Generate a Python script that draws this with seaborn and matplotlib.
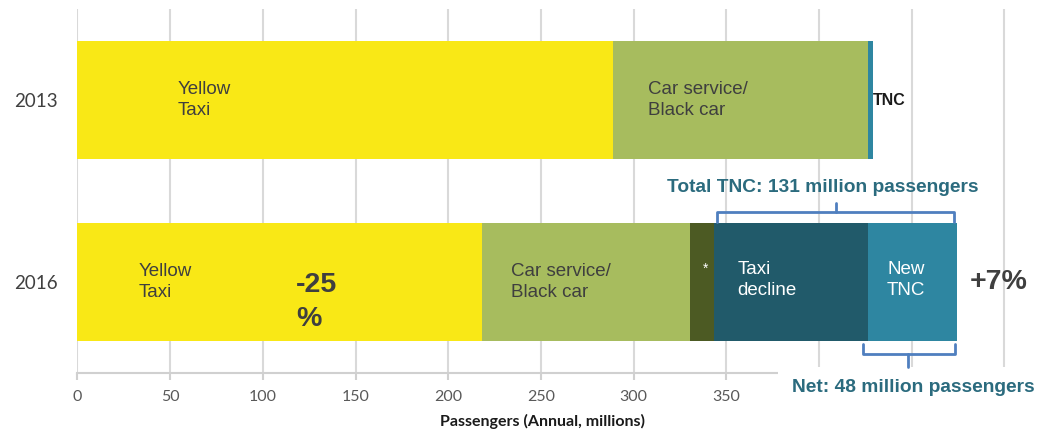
import matplotlib
matplotlib.use("Agg")
import matplotlib.pyplot as plt
from matplotlib.patches import Rectangle
import seaborn as sns
import pandas as pd
import numpy as np

# ---- data ----
years = ["2013", "2016"]
yellow_taxi = [289, 218]
car_service = [137.5, 112.5]
other = [0, 13]
taxi_decline = [0, 83]
new_tnc = [2.5, 48]
xticks = [0, 50, 100, 150, 200, 250, 300, 350, 400, 450, 500]
xtick_labels = ["0", "50", "100", "150", "200", "250", "300", "350", "", "", ""]

series = [yellow_taxi, car_service, other, taxi_decline, new_tnc]
colors = ["#F9E816", "#A7BC5E", "#4C5A23", "#215A6A", "#2E86A1"]

sns.set_theme(style="white")
plt.rcParams["font.family"] = ["Liberation Sans", "DejaVu Sans"]

fig = plt.figure(figsize=(10.4, 4.33), dpi=100)
ax = fig.add_axes([0.0745, 0.1386, 0.9215, 0.8406])

cum = np.cumsum(np.array(series, dtype=float), axis=0)
# draw largest cumulative first so smaller segments sit on top
for i in range(len(series) - 1, -1, -1):
    df = pd.DataFrame({"year": years, "value": cum[i]})
    sns.barplot(data=df, x="value", y="year", orient="h", color=colors[i],
                saturation=1, width=0.65, errorbar=None, linewidth=0, ax=ax,
                zorder=2)

ax.set_xlim(0, 517)
ax.set_ylim(1.5, -0.5)
ax.set_xticks(xticks)
ax.set_xticklabels(xtick_labels, fontsize=11.5, color="#595959", family="Lato")
ax.set_yticks([0, 1])
ax.set_yticklabels(years, fontsize=13.5, color="#404040", family="Lato")
ax.set_ylabel("")
ax.set_xlabel("Passengers (Annual, millions)", fontsize=11.5, fontweight="bold",
              color="#1A1A1A", family="Lato")
ax.xaxis.set_label_coords(0.485, -0.112)
ax.grid(axis="x", color="#D9D9D9", linewidth=1.5)
ax.set_axisbelow(True)
for s in ["top", "right", "left"]:
    ax.spines[s].set_visible(False)
ax.spines["bottom"].set_color("#D0D0D0")
ax.spines["bottom"].set_linewidth(1.5)
ax.tick_params(axis="x", bottom=True, length=5, width=1.5, color="#D0D0D0", pad=7)
ax.tick_params(axis="y", left=False, pad=8.5)

# white box hiding the right end of the axis
ax.add_patch(Rectangle((0.748, 0.0), 0.26, 0.152, transform=fig.transFigure,
                       facecolor="white", edgecolor="none", clip_on=False, zorder=3))

dark = "#3F3F3F"
fs = 13.5
ls = 1.3
ax.text(54, 0, "Yellow\nTaxi", fontsize=fs, color=dark, va="center", ha="left",
        linespacing=ls, zorder=5)
ax.text(308, 0, "Car service/\nBlack car", fontsize=fs, color=dark, va="center", ha="left",
        linespacing=ls, zorder=5)
ax.text(429, 0, "TNC", fontsize=11.5, fontweight="bold", color="#1A1A1A", va="center",
        ha="left", zorder=5)

ax.text(33, 1, "Yellow\nTaxi", fontsize=fs, color=dark, va="center", ha="left",
        linespacing=ls, zorder=5)
ax.text(118, 1.11, "-25\n%", fontsize=20.5, fontweight="bold", color=dark, va="center",
        ha="left", linespacing=1.4, zorder=5)
ax.text(234, 1, "Car service/\nBlack car", fontsize=fs, color=dark, va="center", ha="left",
        linespacing=ls, zorder=5)
ax.text(338.8, 0.93, "*", fontsize=10, color="white", va="center", ha="center", zorder=5)
ax.text(356, 0.99, "Taxi\ndecline", fontsize=fs, color="white", va="center", ha="left",
        linespacing=ls, zorder=5)
ax.text(447, 0.99, "New\nTNC", fontsize=fs, color="white", va="center", ha="center",
        linespacing=ls, zorder=5)
ax.text(497, 1.0, "+7%", fontsize=20.5, fontweight="bold", color=dark, va="center",
        ha="center", zorder=5)

teal = "#2B6B7E"
bc = "#4F7FBF"
ax.text(402, 0.482, "Total TNC: 131 million passengers", fontsize=13.8, fontweight="bold",
        color=teal, va="center", ha="center", zorder=5)
ax.plot([345, 345, 472.6, 472.6], [0.668, 0.614, 0.614, 0.668], color=bc, lw=2, zorder=5,
        solid_joinstyle="round")
ax.plot([409, 409], [0.614, 0.565], color=bc, lw=2, zorder=5)

ax.plot([424, 424, 473.5, 473.5], [1.342, 1.397, 1.397, 1.342], color=bc, lw=2, zorder=5,
        clip_on=False)
ax.plot([448, 448], [1.397, 1.468], color=bc, lw=2, zorder=5, clip_on=False)
ax.text(451, 1.578, "Net: 48 million passengers", fontsize=13.8, fontweight="bold",
        color=teal, va="center", ha="center", zorder=6, clip_on=False)

fig.savefig("out.png", dpi=100)
